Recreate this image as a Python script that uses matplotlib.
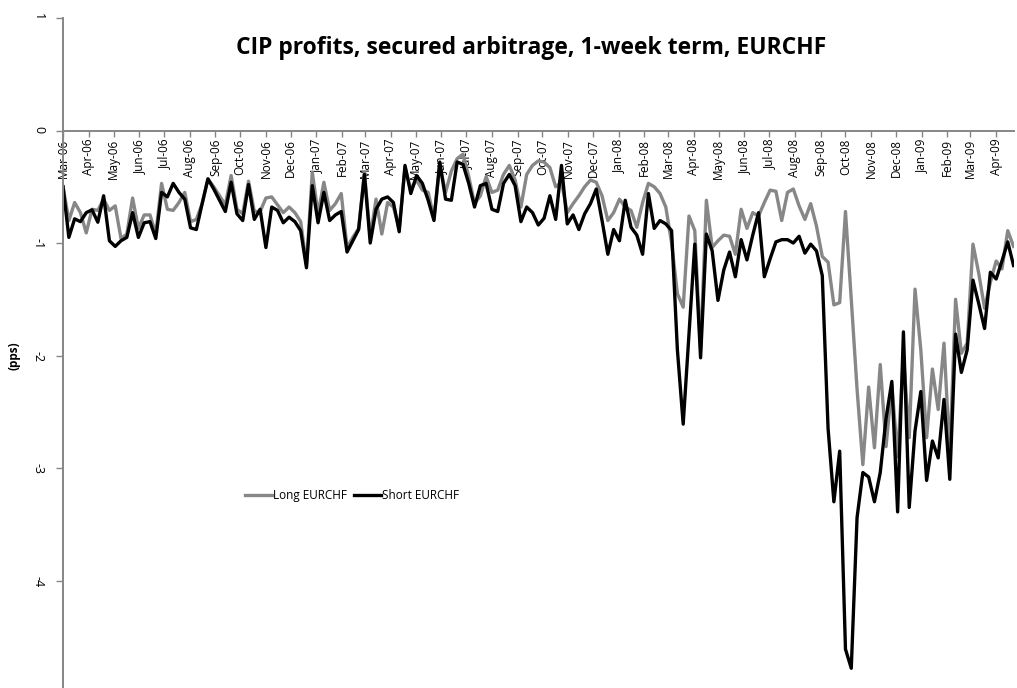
import matplotlib
matplotlib.use("Agg")
import matplotlib.pyplot as plt
import matplotlib.dates as mdates
import pandas as pd

# weekly observations, first one on 1 Mar 2006
start_date = "2006-03-01"

long_eurchf = [
    -0.50, -0.80, -0.64, -0.73, -0.91, -0.70, -0.71, -0.61, -0.71, -0.67,
    -0.96, -0.92, -0.60, -0.87, -0.75, -0.75, -0.92, -0.47, -0.70, -0.71,
    -0.64, -0.55, -0.81, -0.79, -0.65, -0.43, -0.50, -0.58, -0.66, -0.40,
    -0.70, -0.74, -0.45, -0.72, -0.72, -0.60, -0.59, -0.66, -0.73, -0.68,
    -0.73, -0.81, -1.20, -0.37, -0.74, -0.46, -0.71, -0.65, -0.56, -1.04,
    -0.95, -0.87, -0.37, -0.95, -0.61, -0.92, -0.64, -0.68, -0.87, -0.33,
    -0.52, -0.44, -0.53, -0.55, -0.78, -0.31, -0.55, -0.36, -0.25, -0.21,
    -0.41, -0.65, -0.58, -0.41, -0.55, -0.53, -0.39, -0.31, -0.44, -0.68,
    -0.39, -0.31, -0.27, -0.28, -0.33, -0.50, -0.46, -0.73, -0.65, -0.58,
    -0.50, -0.44, -0.46, -0.58, -0.80, -0.73, -0.61, -0.68, -0.71, -0.86,
    -0.64, -0.47, -0.50, -0.56, -0.68, -1.00, -1.45, -1.57, -0.76, -0.89,
    -1.95, -0.62, -1.04, -0.98, -0.93, -0.94, -1.10, -0.70, -0.87, -0.73,
    -0.76, -0.64, -0.53, -0.54, -0.80, -0.55, -0.52, -0.67, -0.79, -0.65,
    -0.85, -1.12, -1.17, -1.55, -1.53, -0.72, -1.50, -2.30, -2.97, -2.28,
    -2.82, -2.08, -2.81, -2.26, -2.90, -2.00, -2.73, -1.41, -1.95, -2.73,
    -2.12, -2.48, -1.89, -2.88, -1.50, -1.98, -1.89, -1.01, -1.27, -1.58,
    -1.35, -1.16, -1.23, -0.89, -1.03,
]

short_eurchf = [
    -0.50, -0.95, -0.785, -0.81, -0.73, -0.705, -0.815, -0.58, -0.98, -1.03,
    -0.98, -0.95, -0.73, -0.95, -0.82, -0.81, -0.96, -0.55, -0.59, -0.47,
    -0.55, -0.61, -0.865, -0.88, -0.65, -0.43, -0.52, -0.62, -0.72, -0.46,
    -0.74, -0.80, -0.48, -0.79, -0.70, -1.04, -0.68, -0.71, -0.82, -0.77,
    -0.81, -0.89, -1.22, -0.49, -0.82, -0.55, -0.80, -0.75, -0.72, -1.08,
    -0.98, -0.88, -0.39, -1.00, -0.70, -0.61, -0.59, -0.64, -0.90, -0.31,
    -0.56, -0.40, -0.47, -0.62, -0.80, -0.28, -0.61, -0.62, -0.28, -0.30,
    -0.47, -0.68, -0.49, -0.47, -0.70, -0.72, -0.47, -0.39, -0.49, -0.81,
    -0.68, -0.73, -0.84, -0.78, -0.58, -0.79, -0.31, -0.83, -0.75, -0.88,
    -0.74, -0.65, -0.52, -0.80, -1.10, -0.88, -0.98, -0.62, -0.86, -0.93,
    -1.10, -0.56, -0.87, -0.80, -0.83, -0.89, -1.95, -2.61, -1.81, -1.01,
    -2.02, -0.92, -1.07, -1.51, -1.24, -1.08, -1.30, -0.97, -1.15, -0.93,
    -0.73, -1.30, -1.14, -0.99, -0.97, -0.97, -1.00, -0.94, -1.09, -1.01,
    -1.07, -1.29, -2.65, -3.30, -2.85, -4.61, -4.78, -3.44, -3.04, -3.08,
    -3.30, -3.04, -2.56, -2.23, -3.39, -1.79, -3.35, -2.67, -2.32, -3.11,
    -2.76, -2.91, -2.39, -3.10, -1.81, -2.15, -1.95, -1.33, -1.54, -1.76,
    -1.26, -1.32, -1.16, -0.99, -1.20,
]

yticks = [-5, -4, -3, -2, -1, 0, 1]

dates = pd.date_range(start_date, periods=len(short_eurchf), freq="7D")

plt.rcParams["font.family"] = ["Open Sans", "DejaVu Sans"]

fig = plt.figure(figsize=(10.17, 6.88), dpi=100)
ax = fig.add_axes([0.062, -0.0073, 0.9346, 0.9811])

ax.plot(dates, long_eurchf, color="#878787", lw=2.4, label="Long EURCHF")
ax.plot(dates, short_eurchf, color="black", lw=2.4, label="Short EURCHF")

ax.set_ylim(-5, 1)
ax.set_xlim(dates[0], dates[-1])
ax.set_yticks(yticks)
ax.set_yticklabels([str(v) for v in yticks])

ax.xaxis.set_major_locator(mdates.MonthLocator())
ax.xaxis.set_major_formatter(mdates.DateFormatter("%b-%y"))

for side in ["top", "right"]:
    ax.spines[side].set_visible(False)
ax.spines["bottom"].set_position(("data", 0))
for side in ["bottom", "left"]:
    ax.spines[side].set_color("#868686")
    ax.spines[side].set_linewidth(1.4)

ax.tick_params(axis="x", direction="out", length=4, width=1, color="#868686",
               labelsize=8.5, pad=2, labelrotation=90)
ax.tick_params(axis="y", direction="out", length=5, width=1, color="#868686",
               labelsize=9, pad=8, labelrotation=-90)

ax.set_ylabel("(pps)", fontsize=8.5, fontweight="bold")
ax.yaxis.set_label_coords(-0.045, 0.5)

fig.text(0.5226, 0.93, "CIP profits, secured arbitrage, 1-week term, EURCHF",
         ha="center", va="center", fontsize=16.5, fontweight="bold")

ax.legend(loc="center", bbox_to_anchor=(0.304, 0.293), ncol=2, frameon=False,
          fontsize=8.5, handlelength=2.3, handletextpad=0.1, columnspacing=0.6)

fig.savefig("out.png", dpi=100)
